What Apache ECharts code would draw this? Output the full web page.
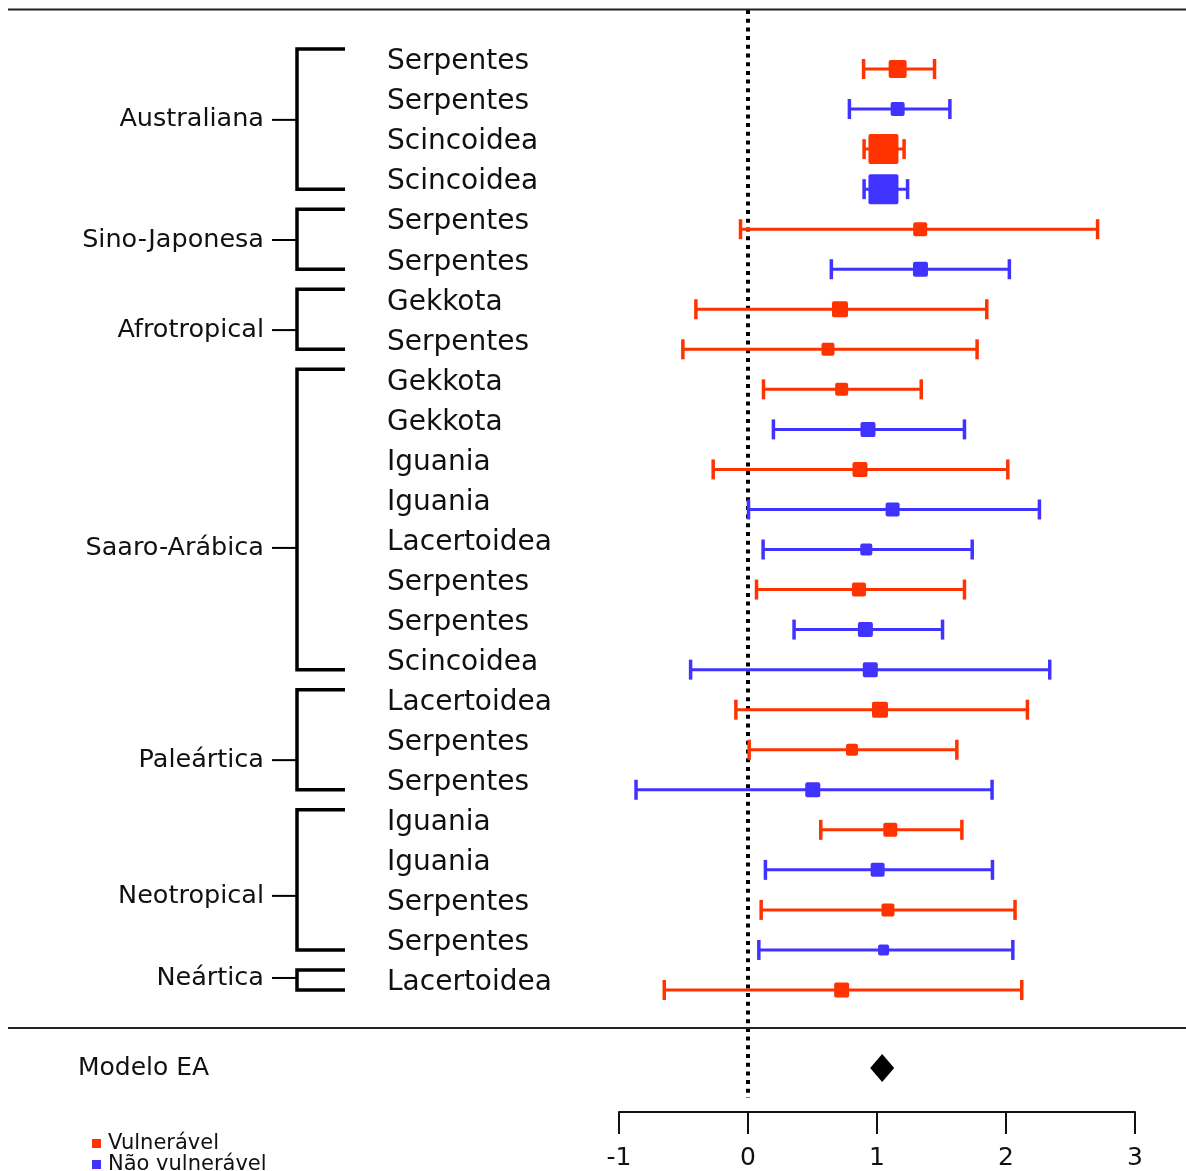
<!DOCTYPE html>
<html>
<head>
<meta charset="utf-8">
<script src="https://cdn.jsdelivr.net/npm/echarts@6/dist/echarts.min.js"></script>
<style>html,body{margin:0;padding:0;background:#fff}#c{width:1186px;height:1171px}</style>
</head>
<body>
<div id="c"></div>
<script>
// ---- data ----
const taxa = ['Serpentes','Serpentes','Scincoidea','Scincoidea','Serpentes','Serpentes','Gekkota','Serpentes',
  'Gekkota','Gekkota','Iguania','Iguania','Lacertoidea','Serpentes','Serpentes','Scincoidea',
  'Lacertoidea','Serpentes','Serpentes','Iguania','Iguania','Serpentes','Serpentes','Lacertoidea'];
const status = ['V','NV','V','NV','V','NV','V','V','V','NV','V','NV','NV','V','NV','NV','V','V','NV','V','NV','V','NV','V'];
const estimate = [1.16,1.16,1.05,1.05,1.335,1.337,0.713,0.62,0.726,0.93,0.868,1.121,0.917,0.86,0.91,0.948,1.023,0.806,0.502,1.103,1.005,1.085,1.051,0.726];
const lower = [0.896,0.786,0.90,0.90,-0.058,0.646,-0.404,-0.505,0.12,0.197,-0.27,0.004,0.117,0.066,0.357,-0.445,-0.094,0.009,-0.868,0.564,0.135,0.102,0.084,-0.649];
const upper = [1.446,1.565,1.21,1.237,2.71,2.026,1.851,1.776,1.343,1.678,2.014,2.259,1.738,1.678,1.508,2.339,2.166,1.619,1.892,1.658,1.895,2.07,2.053,2.122];
const weights = [18,14,30,30,14,15,16,13,13,15,15,14,12,14,15,15,16,12,15,14,14,13,11,15];
const regions = ['Australiana','Sino-Japonesa','Afrotropical','Saaro-Arábica','Paleártica','Neotropical','Neártica'];
const regionSizes = [4,2,2,8,3,4,1];
const modelLabel = 'Modelo EA';
const modelEstimate = 1.04;
const xTicks = [-1,0,1,2,3];
const legendNames = {V:'Vulnerável', NV:'Não vulnerável'};

// ---- layout / style (not data) ----
const FONT = 'DejaVu Sans';
const RED = '#ff3300', BLUE = '#4033ff';
const regionLabelRowOffset = [1.27, 0.27, 0.52, 3.96, 1.26, 1.65, -0.3];

const rowIdx = taxa.map((_, i) => i);
function seriesData(code) {
  const out = [];
  rowIdx.forEach(i => { if (status[i] === code) out.push([lower[i], upper[i], estimate[i], i, weights[i]]); });
  return out;
}
let start = 0;
const regionData = regions.map((name, k) => {
  const d = [start, start + regionSizes[k] - 1, 0, k];
  start += regionSizes[k];
  return d;
});

function renderCI(params, api) {
  const lo = api.coord([api.value(0), api.value(3)]);
  const hi = api.coord([api.value(1), api.value(3)]);
  const est = api.coord([api.value(2), api.value(3)]);
  const color = api.visual('color');
  const s = api.value(4);
  const y = lo[1];
  const capH = 10;
  return {
    type: 'group',
    children: [
      {type: 'line', shape: {x1: lo[0], y1: y, x2: hi[0], y2: y}, style: {stroke: color, lineWidth: 3}},
      {type: 'line', shape: {x1: lo[0], y1: y - capH, x2: lo[0], y2: y + capH}, style: {stroke: color, lineWidth: 3.5}},
      {type: 'line', shape: {x1: hi[0], y1: y - capH, x2: hi[0], y2: y + capH}, style: {stroke: color, lineWidth: 3.5}},
      {type: 'rect', shape: {x: est[0] - s / 2, y: y - s / 2, width: s, height: s, r: 2}, style: {fill: color}}
    ]
  };
}

function renderBracket(params, api) {
  const first = api.value(0), last = api.value(1), k = api.value(3);
  const band = api.size([0, 1])[1];
  const yFirst = api.coord([0, first])[1];
  const yLast = api.coord([0, last])[1];
  const yTop = yFirst - 0.5 * band;
  const yBot = yLast;
  const yLab = yFirst + regionLabelRowOffset[k] * band;
  const xv = 297, xr = 345;
  return {
    type: 'group',
    children: [
      {type: 'polyline', shape: {points: [[xr, yTop], [xv, yTop], [xv, yBot], [xr, yBot]]}, style: {stroke: '#000', lineWidth: 3.5, fill: null}},
      {type: 'line', shape: {x1: 272, y1: yLab, x2: xv, y2: yLab}, style: {stroke: '#000', lineWidth: 2}},
      {type: 'text', x: 264, y: yLab, style: {text: regions[k], font: '25.5px "DejaVu Sans"', fill: '#111', align: 'right', verticalAlign: 'middle'}}
    ]
  };
}

const legendText = {fontSize: 21, color: '#111', fontFamily: FONT, lineHeight: 20, padding: [0, 0, 0, 2]};
const chart = echarts.init(document.getElementById('c'), null, {renderer: 'canvas'});
const option = {
  backgroundColor: '#fff',
  animation: false,
  textStyle: {fontFamily: FONT},
  legend: [
    {data: [{name: legendNames.V, icon: 'rect'}], left: 92, top: 1133, padding: 0,
     itemWidth: 9, itemHeight: 9, textStyle: legendText, selectedMode: false},
    {data: [{name: legendNames.NV, icon: 'rect'}], left: 92, top: 1154, padding: 0,
     itemWidth: 9, itemHeight: 9, textStyle: legendText, selectedMode: false}
  ],
  grid: [
    {left: 619, width: 516, top: 49, height: 961},
    {left: 619, width: 516, top: 1024, height: 94}
  ],
  xAxis: [
    {gridIndex: 0, type: 'value', min: -1, max: 3, interval: 1, show: false},
    {gridIndex: 1, type: 'value', min: -1, max: 3, interval: 1,
     axisLine: {show: true, lineStyle: {color: '#111', width: 2}},
     axisTick: {show: true, length: 22, lineStyle: {color: '#111', width: 2}},
     axisLabel: {fontSize: 25, color: '#111', margin: 34, fontFamily: FONT, formatter: v => xTicks.includes(v) ? String(v) : ''},
     splitLine: {show: false}}
  ],
  yAxis: [
    {gridIndex: 0, type: 'category', inverse: true, data: rowIdx.map(String),
     axisLine: {show: false}, axisTick: {show: false}, splitLine: {show: false},
     axisLabel: {align: 'left', margin: 232, fontSize: 28, color: '#111', fontFamily: FONT,
       verticalAlign: 'bottom', lineHeight: 14, formatter: (v, i) => taxa[i]}},
    {gridIndex: 1, type: 'category', data: [modelLabel],
     axisLine: {show: false}, axisTick: {show: false}, splitLine: {show: false},
     axisLabel: {align: 'left', margin: 541, fontSize: 25, color: '#111', fontFamily: FONT}}
  ],
  series: [
    {name: legendNames.V, type: 'custom', xAxisIndex: 0, yAxisIndex: 0, renderItem: renderCI,
     itemStyle: {color: RED}, encode: {x: [0, 1, 2], y: 3}, data: seriesData('V'), clip: false, silent: true},
    {name: legendNames.NV, type: 'custom', xAxisIndex: 0, yAxisIndex: 0, renderItem: renderCI,
     itemStyle: {color: BLUE}, encode: {x: [0, 1, 2], y: 3}, data: seriesData('NV'), clip: false, silent: true},
    {name: 'regions', type: 'custom', xAxisIndex: 0, yAxisIndex: 0, renderItem: renderBracket,
     encode: {y: 0}, data: regionData, clip: false, silent: true},
    {name: modelLabel, type: 'scatter', xAxisIndex: 1, yAxisIndex: 1, symbol: 'diamond', symbolSize: [24, 28],
     itemStyle: {color: '#000', opacity: 1}, data: [[modelEstimate, 0]], silent: true}
  ]
};
chart.setOption(option);

const x0 = chart.convertToPixel({xAxisIndex: 0}, 0);
chart.setOption({
  graphic: [
    {type: 'line', shape: {x1: 8, y1: 9.5, x2: 1186, y2: 9.5}, style: {stroke: '#222', lineWidth: 2}, silent: true},
    {type: 'line', shape: {x1: 8, y1: 1028, x2: 1186, y2: 1028}, style: {stroke: '#222', lineWidth: 2}, silent: true},
    {type: 'line', z: -1, shape: {x1: x0, y1: 10, x2: x0, y2: 1098}, style: {stroke: '#000', lineWidth: 4, lineDash: [4, 4.7]}, silent: true}
  ]
});
</script>
</body>
</html>
